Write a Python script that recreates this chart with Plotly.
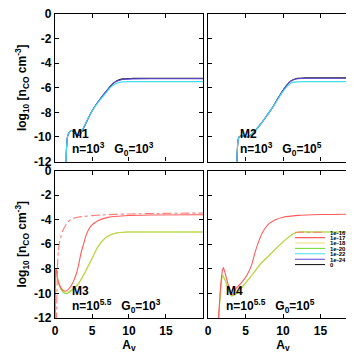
import plotly.graph_objects as go
from plotly.subplots import make_subplots

# ---- data (A_v, log10 n_CO) ----
# M1: n=1e3, G0=1e3
m1_av = [1.5, 1.55, 1.7, 1.95, 2.25, 2.7, 3.3, 3.95, 4.85, 5.75, 6.65, 7.55, 8.25, 9.1, 10.5, 13, 16, 20]
m1_zero = [-12.3, -11.0, -9.95, -9.6, -9.48, -9.7, -9.88, -9.15, -8.05, -7.2, -6.5, -5.82, -5.46, -5.28, -5.24, -5.23, -5.23, -5.23]
m1_1e24 = [-12.3, -11.0, -9.95, -9.6, -9.48, -9.7, -9.85, -9.15, -8.05, -7.2, -6.5, -5.85, -5.5, -5.33, -5.28, -5.27, -5.27, -5.27]
m1_1e22 = [-12.3, -11.0, -9.95, -9.6, -9.48, -9.65, -9.8, -9.1, -8.05, -7.25, -6.6, -5.95, -5.65, -5.52, -5.5, -5.5, -5.5, -5.5]

# M2: n=1e3, G0=1e5
m2_av = [3.85, 3.9, 4.0, 4.15, 4.5, 4.9, 5.3, 5.8, 6.4, 7.1, 7.8, 8.5, 9.2, 9.9, 10.5, 11.1, 11.8, 13, 16, 20]
m2_zero = [-12.3, -11.2, -10.3, -10.0, -9.9, -9.95, -10.0, -9.8, -9.4, -8.9, -8.3, -7.7, -7.0, -6.3, -5.78, -5.42, -5.25, -5.2, -5.2, -5.2]
m2_1e24 = [-12.3, -11.2, -10.3, -10.0, -9.9, -9.95, -10.0, -9.8, -9.4, -8.9, -8.3, -7.7, -7.0, -6.3, -5.8, -5.45, -5.28, -5.23, -5.23, -5.23]
m2_1e22 = [-12.3, -11.2, -10.3, -10.0, -9.9, -9.95, -10.0, -9.8, -9.4, -8.9, -8.3, -7.7, -7.05, -6.4, -5.92, -5.62, -5.52, -5.5, -5.5, -5.5]

# M3: n=10^5.5, G0=1e3
m3_av_16 = [0.2, 0.25, 0.3, 0.36, 0.45, 0.58, 0.8, 1.05, 1.4, 1.7, 2.1, 2.6, 3.2, 4.0, 5.0, 6.2, 8, 10.3, 14, 20]
m3_1e16 = [-12.3, -10.5, -8.8, -7.5, -6.6, -5.95, -5.35, -4.9, -4.5, -4.2, -4.0, -3.86, -3.78, -3.73, -3.67, -3.62, -3.57, -3.53, -3.49, -3.46]
m3_av_17 = [0, 0.03, 0.08, 0.15, 0.36, 0.8, 1.26, 1.7, 2.16, 2.5, 2.84, 3.2, 3.5, 3.85, 4.2, 4.55, 4.9, 5.8, 7.1, 9.4, 13, 20]
m3_1e17 = [-12.3, -10, -8.2, -8.0, -8.9, -9.55, -9.8, -9.73, -9.4, -9.0, -8.48, -7.65, -6.75, -6.0, -5.28, -4.8, -4.48, -4.08, -3.81, -3.68, -3.62, -3.6]
m3_av = [0, 0.04, 0.1, 0.2, 0.36, 0.8, 1.26, 1.7, 2.16, 3.06, 4.0, 4.9, 5.8, 6.7, 7.6, 8.5, 9.8, 12, 16, 20]
m3_1e18 = [-12.3, -10, -8.1, -8.0, -8.75, -9.55, -9.85, -9.88, -9.73, -9.28, -8.35, -7.28, -6.2, -5.54, -5.2, -5.06, -5.0, -5.0, -5.0, -5.0]
m3_1e20 = [-12.3, -10, -8.1, -8.05, -8.8, -9.65, -9.97, -9.98, -9.8, -9.3, -8.35, -7.28, -6.2, -5.54, -5.2, -5.06, -5.0, -5.0, -5.0, -5.0]

# M4: n=10^5.5, G0=1e5
m4_av_17 = [1.36, 1.5, 1.7, 1.9, 2.05, 2.3, 2.7, 3.2, 3.8, 4.5, 5.2, 5.8, 6.3, 6.8, 7.3, 8.0, 9.0, 10.0, 12, 15, 20]
m4_1e17 = [-12.3, -11, -9.3, -8.2, -7.9, -8.4, -9.3, -10.1, -9.55, -9.1, -8.5, -7.7, -6.6, -5.7, -5.0, -4.4, -4.0, -3.8, -3.65, -3.58, -3.55]
m4_av = [1.4, 1.55, 1.75, 1.95, 2.3, 2.7, 3.1, 3.8, 4.5, 5.2, 6.0, 7.0, 8.0, 9.0, 10.0, 10.8, 11.5, 12.2, 14, 20]
m4_1e18 = [-12.3, -10.8, -9.2, -8.5, -8.9, -9.6, -10.15, -9.95, -9.5, -9.0, -8.4, -7.6, -7.0, -6.4, -5.8, -5.4, -5.1, -5.0, -5.0, -5.0]
m4_1e20 = [-12.3, -10.8, -9.2, -8.55, -8.95, -9.65, -10.2, -10.0, -9.55, -9.0, -8.4, -7.6, -7.0, -6.4, -5.8, -5.4, -5.1, -5.0, -5.0, -5.0]

rate_labels = ["1e-16", "1e-17", "1e-18", "1e-20", "1e-22", "1e-24", "0"]
rate_colors = ["#ff7a7a", "#ff5c5c", "#e8d040", "#78dc40", "#44dcf4", "#5a48d8", "#222222"]
x_ticks = [0, 5, 10, 15]
y_ticks = [0, -2, -4, -6, -8, -10, -12]
y_tick_text = ["0", "-2", "-4", "-6", "-8", "-10", "-12"]
panel_labels = ["M1", "M2", "M3", "M4"]
panel_params = [
    "n=10<sup>3</sup>\u00a0\u00a0\u00a0G<sub>0</sub>=10<sup>3</sup>",
    "n=10<sup>3</sup>\u00a0\u00a0\u00a0G<sub>0</sub>=10<sup>5</sup>",
    "n=10<sup>5.5</sup>\u00a0\u00a0\u00a0G<sub>0</sub>=10<sup>3</sup>",
    "n=10<sup>5.5</sup>\u00a0\u00a0\u00a0G<sub>0</sub>=10<sup>5</sup>",
]

fig = make_subplots(rows=2, cols=2)

shown = set()


def legend_id(i):
    return "legend" if i == 0 else f"legend{i + 1}"


def add(x, y, rate, row, col, opacity=1.0):
    i = rate_labels.index(rate)
    fig.add_trace(go.Scatter(
        x=x, y=y, mode="lines", name=rate, legendgroup=rate, legend=legend_id(i),
        showlegend=rate not in shown, opacity=opacity,
        line=dict(color=rate_colors[i], width=1.1, shape="spline", smoothing=0.6,
                  dash="dashdot" if rate == "1e-16" else "solid"),
    ), row=row, col=col)
    shown.add(rate)


# draw order: low rates underneath
add(m1_av, m1_zero, "0", 1, 1)
add(m1_av, m1_1e24, "1e-24", 1, 1)
add(m1_av, m1_1e22, "1e-22", 1, 1)
add(m2_av, m2_zero, "0", 1, 2)
add(m2_av, m2_1e24, "1e-24", 1, 2)
add(m2_av, m2_1e22, "1e-22", 1, 2)
add(m3_av, m3_1e20, "1e-20", 2, 1)
add(m3_av, m3_1e18, "1e-18", 2, 1, 0.7)
add(m3_av_17, m3_1e17, "1e-17", 2, 1)
add(m3_av_16, m3_1e16, "1e-16", 2, 1)
add(m4_av, m4_1e20, "1e-20", 2, 2)
add(m4_av, m4_1e18, "1e-18", 2, 2, 0.7)
add(m4_av_17, m4_1e17, "1e-17", 2, 2)

bold = dict(family="Liberation Sans, Arial", size=12, color="black", weight="bold")
axis_common = dict(showgrid=False, zeroline=False, showline=True, linecolor="black", linewidth=1.3,
                   mirror="ticks", ticks="inside", ticklen=4, tickcolor="black", tickfont=bold,
                   automargin=False, ticklabeloverflow="allow")

x_dom = [[0, 0.4884], [0.505, 1]]
y_dom = [[0.5148, 1], [0, 0.485]]
for r in (1, 2):
    for c in (1, 2):
        fig.update_xaxes(range=[0, 20], domain=x_dom[c - 1], tickvals=x_ticks,
                         showticklabels=(r == 2), ticklabelstandoff=1, row=r, col=c, **axis_common)
        fig.update_yaxes(range=[-12, 0], domain=y_dom[r - 1], tickvals=y_ticks,
                         ticktext=y_tick_text,
                         showticklabels=(c == 1), row=r, col=c, **axis_common)

ytitle = "log<sub>10</sub> [n<sub>CO</sub> cm<sup>-3</sup>]"
fig.update_yaxes(title=dict(text=ytitle, font=bold, standoff=4), row=1, col=1)
fig.update_yaxes(title=dict(text=ytitle, font=bold, standoff=4), row=2, col=1)
fig.update_xaxes(title=dict(text="A<sub>v</sub>", font=bold, standoff=2), row=2, col=1)
fig.update_xaxes(title=dict(text="A<sub>v</sub>", font=bold, standoff=2), row=2, col=2)

# panel labels
label_x = [0.1, 0.2, 0.1, 0.105]
axis_ids = ["", "2", "3", "4"]
for k in range(4):
    xr = "x" + axis_ids[k] + " domain"
    yr = "y" + axis_ids[k] + " domain"
    fig.add_annotation(text=panel_labels[k], xref=xr, yref=yr, x=label_x[k], y=0.125,
                       xanchor="left", yanchor="bottom", showarrow=False, font=bold)
    fig.add_annotation(text=panel_params[k], xref=xr, yref=yr, x=label_x[k], y=0.01,
                       xanchor="left", yanchor="bottom", showarrow=False, font=bold)

# one tiny legend per rate, stacked inside the M4 panel
legend_font = dict(family="Liberation Sans, Arial", size=6, color="black", weight="bold")
legends = {}
for i in range(len(rate_labels)):
    legends[legend_id(i)] = dict(
        x=0.7756, y=0.282 - i * 0.0177, xanchor="left", yanchor="middle",
        bgcolor="rgba(0,0,0,0)", font=legend_font, itemwidth=30,
    )

fig.update_layout(
    width=354, height=354,
    margin=dict(l=47, r=4, t=6, b=44, autoexpand=False),
    paper_bgcolor="white", plot_bgcolor="white",
    **legends,
)

fig.write_html("out.html")
